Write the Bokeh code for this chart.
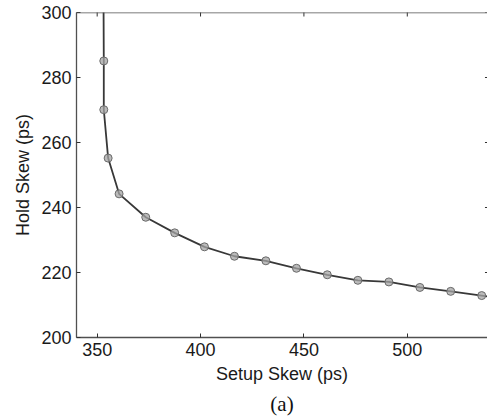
import math
from bokeh.plotting import figure
from bokeh.models import Range1d, FixedTicker, Title, Span
from bokeh.embed import file_html
from bokeh.resources import INLINE

# Data
setup_skew = [353.2, 353.2, 355.3, 360.6, 373.5, 387.5, 401.9, 416.4, 431.6,
              446.4, 461.3, 476.1, 491.1, 506.1, 521.0, 536.0]
hold_skew = [285.1, 270.1, 255.2, 244.2, 237.0, 232.2, 227.9, 225.0, 223.6,
             221.3, 219.3, 217.6, 217.1, 215.4, 214.2, 212.9]
# curve continues beyond the visible window at both ends
curve_x = [352.9] + setup_skew + [545.0]
curve_y = [330.0] + hold_skew + [212.1]

x_ticks = [350, 400, 450, 500]
y_ticks = [200, 220, 240, 260, 280, 300]
x_limits = (340, 540)      # original axis limits (right edge is cropped in the picture)
y_limits = (200, 300)
x_visible_end = 538.8      # the picture cuts off just before x = 540

FONT = "Liberation Sans"
AX = "#505050"

p = figure(width=487, height=419, output_backend="svg", toolbar_location=None,
           x_range=Range1d(x_limits[0], x_visible_end), y_range=Range1d(*y_limits),
           min_border_left=76, min_border_right=0, min_border_top=12,
           min_border_bottom=0, background_fill_color="white",
           border_fill_color="white")
p.outline_line_color = None
p.grid.visible = False

# top edge of the box (the right edge is cropped away in the picture)
p.add_layout(Span(location=y_limits[1], dimension="width", line_color=AX,
                  line_width=1.3))

p.line(curve_x, curve_y, line_color="#383838", line_width=1.8)
p.scatter(setup_skew, hold_skew, size=8, fill_color="#a4a4a4", fill_alpha=0.75,
          line_color="#6a6a6a", line_width=1)

# inward tick marks on the top and (cropped) right sides of the box
p.scatter(x_ticks, [y_limits[1]] * len(x_ticks), marker="dash", angle=math.pi / 2,
          size=8, line_color="#303030", line_width=1)
p.scatter([x_limits[1]] * len(y_ticks), y_ticks, marker="dash",
          size=10, line_color="#303030", line_width=1)

for ax, ticks in ((p.xaxis[0], x_ticks), (p.yaxis[0], y_ticks)):
    ax.ticker = FixedTicker(ticks=ticks)
    ax.minor_tick_line_color = None
    ax.major_tick_in = 4
    ax.major_tick_out = 0
    ax.major_tick_line_color = "#303030"
    ax.axis_line_color = AX
    ax.axis_line_width = 1.3
    ax.major_label_text_font = FONT
    ax.major_label_text_font_size = "18px"
    ax.major_label_text_color = "#1a1a1a"
    ax.major_label_standoff = 5
    ax.axis_label_text_font = FONT
    ax.axis_label_text_font_size = "18px"
    ax.axis_label_text_font_style = "normal"
    ax.axis_label_text_color = "#1a1a1a"
    ax.axis_label_standoff = 5

p.xaxis[0].axis_label = "Setup Skew (ps)"
p.yaxis[0].axis_label = "Hold Skew (ps)"

cap = Title(text="(a)", align="center", text_font="Liberation Serif",
            text_font_size="21px", text_font_style="normal", text_color="#111111",
            standoff=7)
p.add_layout(cap, "below")

open("out.html", "w").write(file_html(p, INLINE))
